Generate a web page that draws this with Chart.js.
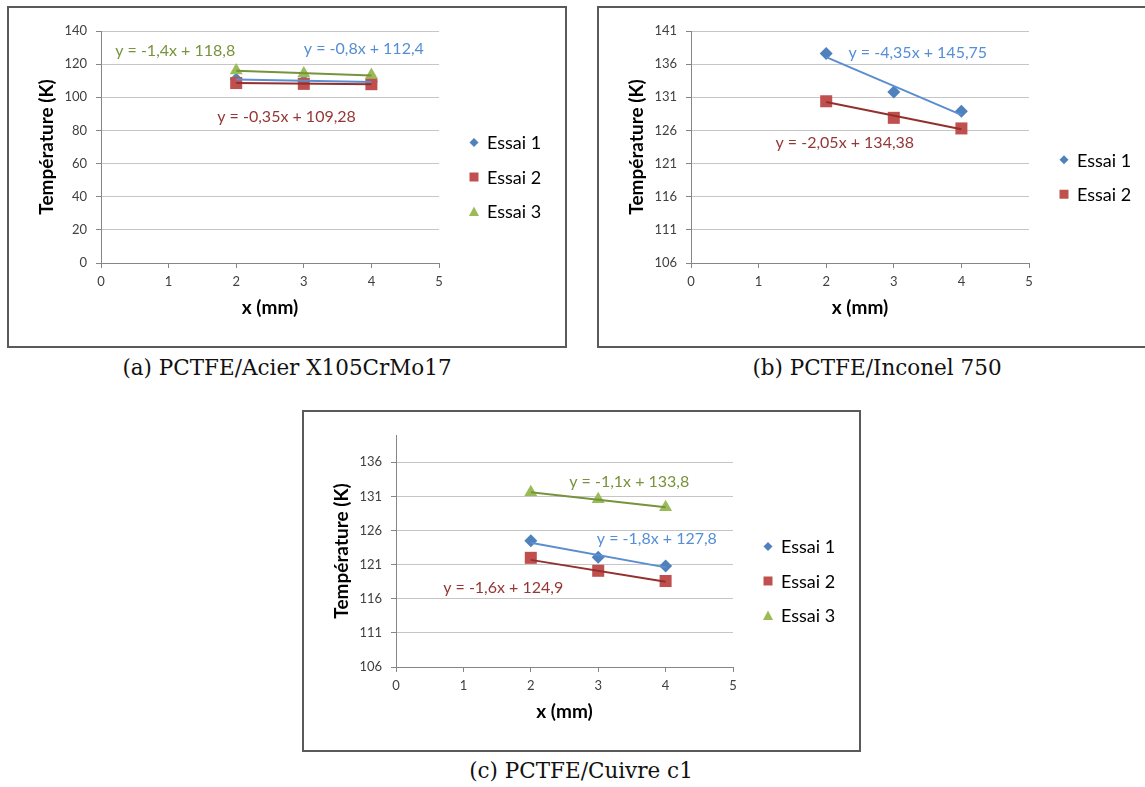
<!DOCTYPE html>
<html>
<head>
<meta charset="utf-8">
<script src="https://cdn.jsdelivr.net/npm/chart.js@4.4.1/dist/chart.umd.min.js"></script>
<style>
  body { margin: 0; background: #fff; width: 1145px; height: 787px; overflow: hidden; position: relative; }
  .frame { position: absolute; border: 2px solid #5a5a5a; background: #fff; }
  .frame canvas { display: block; }
  .cap { position: absolute; font-family: "DejaVu Serif", serif; font-size: 21.5px; color: #111;
         white-space: nowrap; transform: translate(-50%, -50%); }
</style>
</head>
<body>
<div class="frame" style="left:7px;top:6px"><canvas id="chartA" width="556" height="338"></canvas></div>
<div class="frame" style="left:597px;top:6px"><canvas id="chartB" width="556" height="338"></canvas></div>
<div class="frame" style="left:302px;top:410px"><canvas id="chartC" width="555" height="338"></canvas></div>
<div class="cap" style="left:287px;top:367px">(a) PCTFE/Acier X105CrMo17</div>
<div class="cap" style="left:877px;top:367px">(b) PCTFE/Inconel 750</div>
<div class="cap" style="left:581px;top:770px">(c) PCTFE/Cuivre c1</div>

<script>
const xValues = [2, 3, 4];
const xTicks = [0, 1, 2, 3, 4, 5];

// (a) PCTFE/Acier X105CrMo17
const acierEssai1 = [110.9, 109.8, 109.3];
const acierEssai2 = [108.6, 108.1, 107.9];
const acierEssai3 = [116.2, 114.3, 113.4];
const acierSlopes = [-0.8, -0.35, -1.4];
const acierIntercepts = [112.4, 109.28, 118.8];
const acierYTicks = [0, 20, 40, 60, 80, 100, 120, 140];
const acierLabelPos = [[3.0, 129], [1.72, 88], [0.21, 128]];

// (b) PCTFE/Inconel 750
const inconelEssai1 = [137.6, 131.8, 128.9];
const inconelEssai2 = [130.4, 127.9, 126.3];
const inconelSlopes = [-4.35, -2.05];
const inconelIntercepts = [145.75, 134.38];
const inconelYTicks = [106, 111, 116, 121, 126, 131, 136, 141];
const inconelLabelPos = [[2.33, 137.7], [1.25, 124.2]];

// (c) PCTFE/Cuivre c1
const cuivreEssai1 = [124.5, 122.1, 120.8];
const cuivreEssai2 = [122.0, 120.1, 118.6];
const cuivreEssai3 = [131.6, 130.6, 129.4];
const cuivreSlopes = [-1.8, -1.6, -1.1];
const cuivreIntercepts = [127.8, 124.9, 133.8];
const cuivreYTicks = [106, 111, 116, 121, 126, 131, 136];
const cuivreLabelPos = [[2.98, 124.75], [0.70, 117.6], [2.57, 133.2]];

const styles = [
  { label: "Essai 1", pointStyle: "rectRot", radius: 6.5, color: "#4F81BD", trend: "#5A8ED0", text: "#558ED5" },
  { label: "Essai 2", pointStyle: "rect", radius: 8.5, color: "#C0504D", trend: "#93302D", text: "#953735" },
  { label: "Essai 3", pointStyle: "triangle", radius: 7.5, color: "#9BBB59", trend: "#77933C", text: "#77933C" },
];

Chart.defaults.font.family = "Lato";

function fmt(n) {
  return String(n).replace(".", ",");
}

function drawMarker(ctx, style, x, y) {
  ctx.fillStyle = style.color;
  ctx.beginPath();
  if (style.pointStyle === "rectRot") {
    ctx.moveTo(x, y - 4.5); ctx.lineTo(x + 4.5, y); ctx.lineTo(x, y + 4.5); ctx.lineTo(x - 4.5, y);
  } else if (style.pointStyle === "rect") {
    ctx.rect(x - 4.5, y - 4.5, 9, 9);
  } else {
    ctx.moveTo(x, y - 5); ctx.lineTo(x + 5, y + 4.5); ctx.lineTo(x - 5, y + 4.5);
  }
  ctx.closePath();
  ctx.fill();
}

// equation labels + Excel-like legend
const excelExtras = {
  id: "excelExtras",
  afterDraw(chart, args, opts) {
    const ctx = chart.ctx;
    const xs = chart.scales.x, ys = chart.scales.y;
    ctx.save();
    ctx.font = "16px Lato";
    ctx.textBaseline = "middle";
    ctx.textAlign = "left";
    opts.equations.forEach((eq) => {
      ctx.fillStyle = eq.color;
      ctx.fillText(eq.text, xs.getPixelForValue(eq.pos[0]), ys.getPixelForValue(eq.pos[1]));
    });
    const n = opts.series.length;
    const step = 34.5;
    const y0 = chart.height / 2 - (step * (n - 1)) / 2;
    ctx.font = "18px Lato";
    opts.series.forEach((s, i) => {
      const y = y0 + i * step;
      drawMarker(ctx, s, chart.chartArea.right + 35, y);
      ctx.fillStyle = "#000";
      ctx.fillText(s.label, chart.chartArea.right + 48, y + 1);
    });
    ctx.restore();
  },
};

function makeChart(id, seriesData, slopes, intercepts, yMin, yMax, yTicks, labelPos) {
  const datasets = [];
  const equations = [];
  seriesData.forEach((values, i) => {
    const st = styles[i];
    datasets.push({
      label: st.label,
      data: xValues.map((x, k) => ({ x: x, y: values[k] })),
      showLine: false,
      pointStyle: st.pointStyle,
      pointRadius: st.radius,
      pointHoverRadius: st.radius,
      backgroundColor: st.color,
      borderColor: st.color,
      borderWidth: 0,
      order: 4 - i,
    });
    const x1 = xValues[0], x2 = xValues[xValues.length - 1];
    datasets.push({
      label: st.label + " trend",
      data: [
        { x: x1, y: slopes[i] * x1 + intercepts[i] },
        { x: x2, y: slopes[i] * x2 + intercepts[i] },
      ],
      showLine: true,
      pointRadius: 0,
      borderColor: st.trend,
      borderWidth: 2,
      order: 0,
    });
    equations.push({
      text: "y = " + fmt(slopes[i]) + "x + " + fmt(intercepts[i]),
      pos: labelPos[i],
      color: st.text,
    });
  });

  return new Chart(id, {
    type: "scatter",
    data: { datasets: datasets },
    plugins: [excelExtras],
    options: {
      responsive: false,
      animation: false,
      layout: { padding: { left: 0, top: 23, right: 126, bottom: 0 } },
      plugins: {
        legend: { display: false },
        tooltip: { enabled: false },
        excelExtras: { equations: equations, series: styles.slice(0, seriesData.length) },
      },
      scales: {
        x: {
          type: "linear",
          min: 0,
          max: 5,
          afterBuildTicks: (s) => { s.ticks = xTicks.map((v) => ({ value: v })); },
          afterFit: (s) => { s.height = 83; },
          grid: { drawOnChartArea: false, drawTicks: true, tickLength: 5, tickColor: "#868686" },
          border: { color: "#868686", width: 1 },
          ticks: { color: "#404040", font: { size: 13 }, padding: 6, maxRotation: 0, autoSkip: false },
          title: {
            display: true,
            text: "x (mm)",
            color: "#000",
            font: { size: 19, weight: "bold" },
            padding: { top: 0, bottom: 27 },
          },
        },
        y: {
          type: "linear",
          min: yMin,
          max: yMax,
          afterBuildTicks: (s) => { s.ticks = yTicks.map((v) => ({ value: v })); },
          afterFit: (s) => { s.width = 92; },
          grid: { color: "#c6c6c6", tickLength: 5, tickColor: "#868686" },
          border: { color: "#868686", width: 1 },
          ticks: { color: "#404040", font: { size: 13 }, padding: 9, autoSkip: false },
          title: {
            display: true,
            text: "Température (K)",
            color: "#000",
            font: { size: 19, weight: "bold" },
            padding: { top: 26, bottom: 0 },
          },
        },
      },
    },
  });
}

makeChart("chartA", [acierEssai1, acierEssai2, acierEssai3], acierSlopes, acierIntercepts,
  0, 140, acierYTicks, acierLabelPos);
makeChart("chartB", [inconelEssai1, inconelEssai2], inconelSlopes, inconelIntercepts,
  106, 141, inconelYTicks, inconelLabelPos);
makeChart("chartC", [cuivreEssai1, cuivreEssai2, cuivreEssai3], cuivreSlopes, cuivreIntercepts,
  106, 140, cuivreYTicks, cuivreLabelPos);
</script>
</body>
</html>
